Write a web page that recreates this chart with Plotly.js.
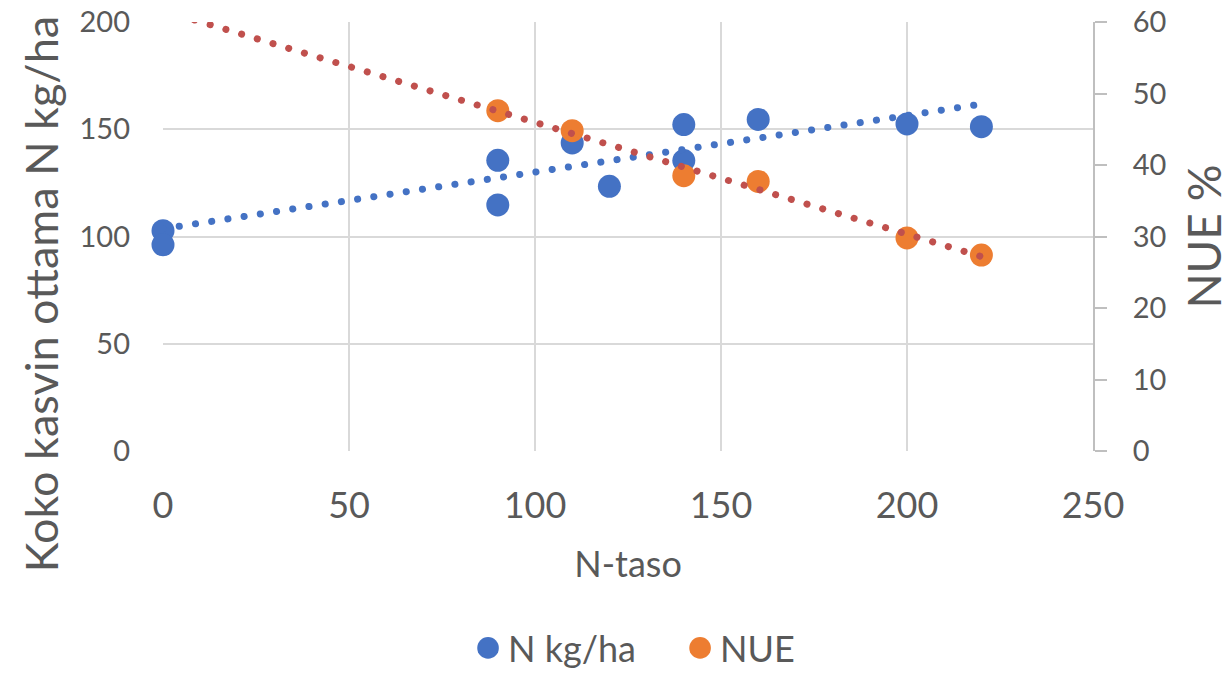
<!DOCTYPE html>
<html>
<head>
<meta charset="utf-8">
<script src="https://cdn.plot.ly/plotly-3.0.1.min.js"></script>
<style>
html,body{margin:0;padding:0;background:#fff;}
#chart{width:1231px;height:678px;}
</style>
</head>
<body>
<div id="chart"></div>
<script>
// Data
const nLevel = [0, 0, 90, 90, 110, 120, 140, 140, 160, 200, 220];
const nKgHa = [102.7, 96.1, 135.5, 114.7, 143.6, 123.4, 152.2, 135.4, 154.6, 152.5, 151.2];
const nueLevel = [90, 110, 140, 160, 200, 220];
const nuePct = [47.6, 44.8, 38.5, 37.7, 29.8, 27.4];
// Linear trend lines (end points)
const trendX = [0, 220];
const trendN = [103.6, 161.7];
const trendNUE = [61.6, 27.2];
const xTicks = [0, 50, 100, 150, 200, 250];
const yTicks = [0, 50, 100, 150, 200];
const y2Ticks = [0, 10, 20, 30, 40, 50, 60];

const FONT = 'Lato, "Open Sans", sans-serif';
const GREY = '#595959';
const BLUE = '#4472C4';
const ORANGE = '#ED7D31';
const RED = '#C0504D';
const DOT = '0.1px,16.3px';

const traces = [
  {x: nLevel, y: nKgHa, name: 'N kg/ha', type: 'scatter', mode: 'markers',
   marker: {color: BLUE, size: 23}, yaxis: 'y', cliponaxis: false, legend: 'legend'},
  {x: trendX, y: trendN, type: 'scatter', mode: 'lines', showlegend: false,
   line: {color: BLUE, width: 7, dash: DOT}, yaxis: 'y', hoverinfo: 'skip'},
  {x: nueLevel, y: nuePct, name: 'NUE', type: 'scatter', mode: 'markers',
   marker: {color: ORANGE, size: 23}, yaxis: 'y2', cliponaxis: false, legend: 'legend2'},
  {x: trendX, y: trendNUE, type: 'scatter', mode: 'lines', showlegend: false,
   line: {color: RED, width: 7, dash: DOT}, yaxis: 'y2', hoverinfo: 'skip'}
];

const legendBase = {orientation: 'h', xanchor: 'left', y: -0.5291, yanchor: 'bottom',
  font: {family: FONT, size: 36, color: GREY}, itemsizing: 'trace', bgcolor: 'rgba(0,0,0,0)'};

const layout = {
  width: 1231, height: 678,
  margin: {l: 163, r: 138, t: 22, b: 227, autoexpand: false},
  paper_bgcolor: '#ffffff', plot_bgcolor: '#ffffff',
  font: {family: FONT, color: GREY, size: 29},
  showlegend: true,
  legend: Object.assign({}, legendBase, {x: 0.328}),
  legend2: Object.assign({}, legendBase, {x: 0.556}),
  xaxis: {
    range: [0, 250], tickvals: xTicks, ticktext: xTicks.map(String),
    showgrid: true, gridcolor: '#D9D9D9', gridwidth: 2, zeroline: false,
    showline: false, ticks: '', ticklabelstandoff: 30,
    tickfont: {family: FONT, size: 36, color: GREY},
    title: {text: 'N-taso', font: {family: FONT, size: 36, color: GREY}, standoff: 26},
    fixedrange: true
  },
  yaxis: {
    range: [0, 200], tickvals: yTicks, ticktext: yTicks.map(String),
    showgrid: true, gridcolor: '#D9D9D9', gridwidth: 2, zeroline: false,
    showline: false, ticks: '', ticklabelstandoff: 32,
    tickfont: {family: FONT, size: 29, color: GREY}, fixedrange: true
  },
  yaxis2: {
    range: [0, 60], tickvals: y2Ticks, ticktext: y2Ticks.map(String),
    overlaying: 'y', side: 'right', showgrid: false, zeroline: false,
    showline: true, linecolor: '#BFBFBF', linewidth: 2,
    ticks: 'outside', ticklen: 12, tickwidth: 2, tickcolor: '#BFBFBF',
    ticklabelstandoff: 20,
    tickfont: {family: FONT, size: 29, color: GREY},
    title: {text: 'NUE %', font: {family: FONT, size: 46, color: GREY}, standoff: 24},
    fixedrange: true
  },
  annotations: [{
    text: 'Koko kasvin ottama N kg/ha', textangle: -90,
    xref: 'paper', yref: 'paper', x: -0.131, y: 0.366,
    xanchor: 'center', yanchor: 'middle', showarrow: false,
    font: {family: FONT, size: 45, color: GREY}
  }]
};

function postStyle(gd){
  gd.querySelectorAll('.scatterlayer .trace .js-line').forEach(function(p){
    p.style.strokeLinecap = 'round';
  });
  gd.querySelectorAll('g.infolayer path.scatterpts').forEach(function(p){
    const t = p.getAttribute('transform') || '';
    if (t.indexOf('scale') < 0) p.setAttribute('transform', t + ' scale(1.35)');
  });
}

Plotly.newPlot('chart', traces, layout, {staticPlot: true, displayModeBar: false}).then(function(gd){
  postStyle(gd);
  setTimeout(function(){ postStyle(gd); }, 50);
});
</script>
</body>
</html>
